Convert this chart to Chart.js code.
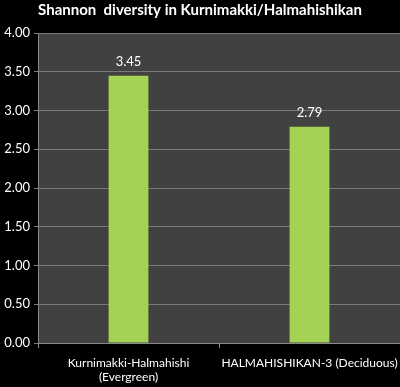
<!DOCTYPE html>
<html>
<head>
<meta charset="utf-8">
<script src="https://cdn.jsdelivr.net/npm/chart.js@4"></script>
<style>
  html, body { margin: 0; padding: 0; background: #000; }
  #wrap { width: 400px; height: 387px; }
</style>
</head>
<body>
<div id="wrap"><canvas id="diversityChart"></canvas></div>
<script>
// Dados do gráfico
const categories = [["Kurnimakki-Halmahishi", "(Evergreen)"], "HALMAHISHIKAN-3 (Deciduous)"];
const shannonValues = [3.45, 2.79];
const yTicks = [0, 0.5, 1, 1.5, 2, 2.5, 3, 3.5, 4];

const fontFamily = "Lato, 'Open Sans', sans-serif";

// Fundo cinza da área do gráfico
const plotBackground = {
  id: "plotBackground",
  beforeDraw(chart) {
    const { ctx, chartArea: a } = chart;
    ctx.save();
    ctx.fillStyle = "#414141";
    ctx.fillRect(a.left, a.top, a.right - a.left, a.bottom - a.top);
    ctx.restore();
  },
};

// Rótulos dos valores acima das barras
const valueLabels = {
  id: "valueLabels",
  afterDatasetsDraw(chart) {
    const { ctx } = chart;
    const meta = chart.getDatasetMeta(0);
    ctx.save();
    ctx.fillStyle = "#ffffff";
    ctx.font = "13px " + fontFamily;
    ctx.textAlign = "center";
    ctx.textBaseline = "bottom";
    meta.data.forEach((bar, i) => {
      ctx.fillText(shannonValues[i].toFixed(2), bar.x, bar.y - 7);
    });
    ctx.restore();
  },
};

function barGradient(context) {
  const { chart } = context;
  const el = context.element;
  if (!chart.chartArea || !el || el.width === undefined) return "#a4d252";
  const g = chart.ctx.createLinearGradient(el.x - el.width / 2, 0, el.x + el.width / 2, 0);
  g.addColorStop(0, "#7aa82a");
  g.addColorStop(0.12, "#a2d244");
  g.addColorStop(0.5, "#b4e25c");
  g.addColorStop(0.88, "#a2d244");
  g.addColorStop(1, "#7aa82a");
  return g;
}

new Chart(document.getElementById("diversityChart"), {
  type: "bar",
  data: {
    labels: categories,
    datasets: [
      {
        data: shannonValues,
        backgroundColor: barGradient,
        borderWidth: 0,
        barPercentage: 0.22,
        categoryPercentage: 1,
      },
    ],
  },
  options: {
    responsive: true,
    maintainAspectRatio: false,
    animation: false,
    plugins: {
      legend: { display: false },
      tooltip: { enabled: false },
      title: {
        display: true,
        text: "Shannon  diversity in Kurnimakki/Halmahishikan",
        color: "#ffffff",
        font: { family: fontFamily, size: 15, weight: "bold" },
        padding: { top: 1, bottom: 14 },
      },
    },
    scales: {
      x: {
        grid: {
          display: true,
          offset: true,
          drawOnChartArea: false,
          drawTicks: true,
          tickLength: 5,
          color: "#8a8a8a",
        },
        border: { display: true, color: "#8a8a8a" },
        ticks: {
          color: "#ffffff",
          font: { family: fontFamily, size: 12 },
          maxRotation: 0,
          autoSkip: false,
          padding: 8,
        },
        afterFit(scale) {
          scale.height = 44;
          scale.paddingLeft = 0;
          scale.paddingRight = 0;
        },
      },
      y: {
        min: 0,
        max: 4,
        afterBuildTicks(scale) {
          scale.ticks = yTicks.map((v) => ({ value: v }));
        },
        grid: {
          color: "#7a7a7a",
          drawTicks: true,
          tickLength: 4,
        },
        border: { display: true, color: "#8a8a8a" },
        ticks: {
          color: "#ffffff",
          font: { family: fontFamily, size: 13 },
          padding: 4,
          callback: (v) => Number(v).toFixed(2),
        },
        afterFit(scale) {
          scale.width = 38;
        },
      },
    },
  },
  plugins: [plotBackground, valueLabels],
});
</script>
</body>
</html>
